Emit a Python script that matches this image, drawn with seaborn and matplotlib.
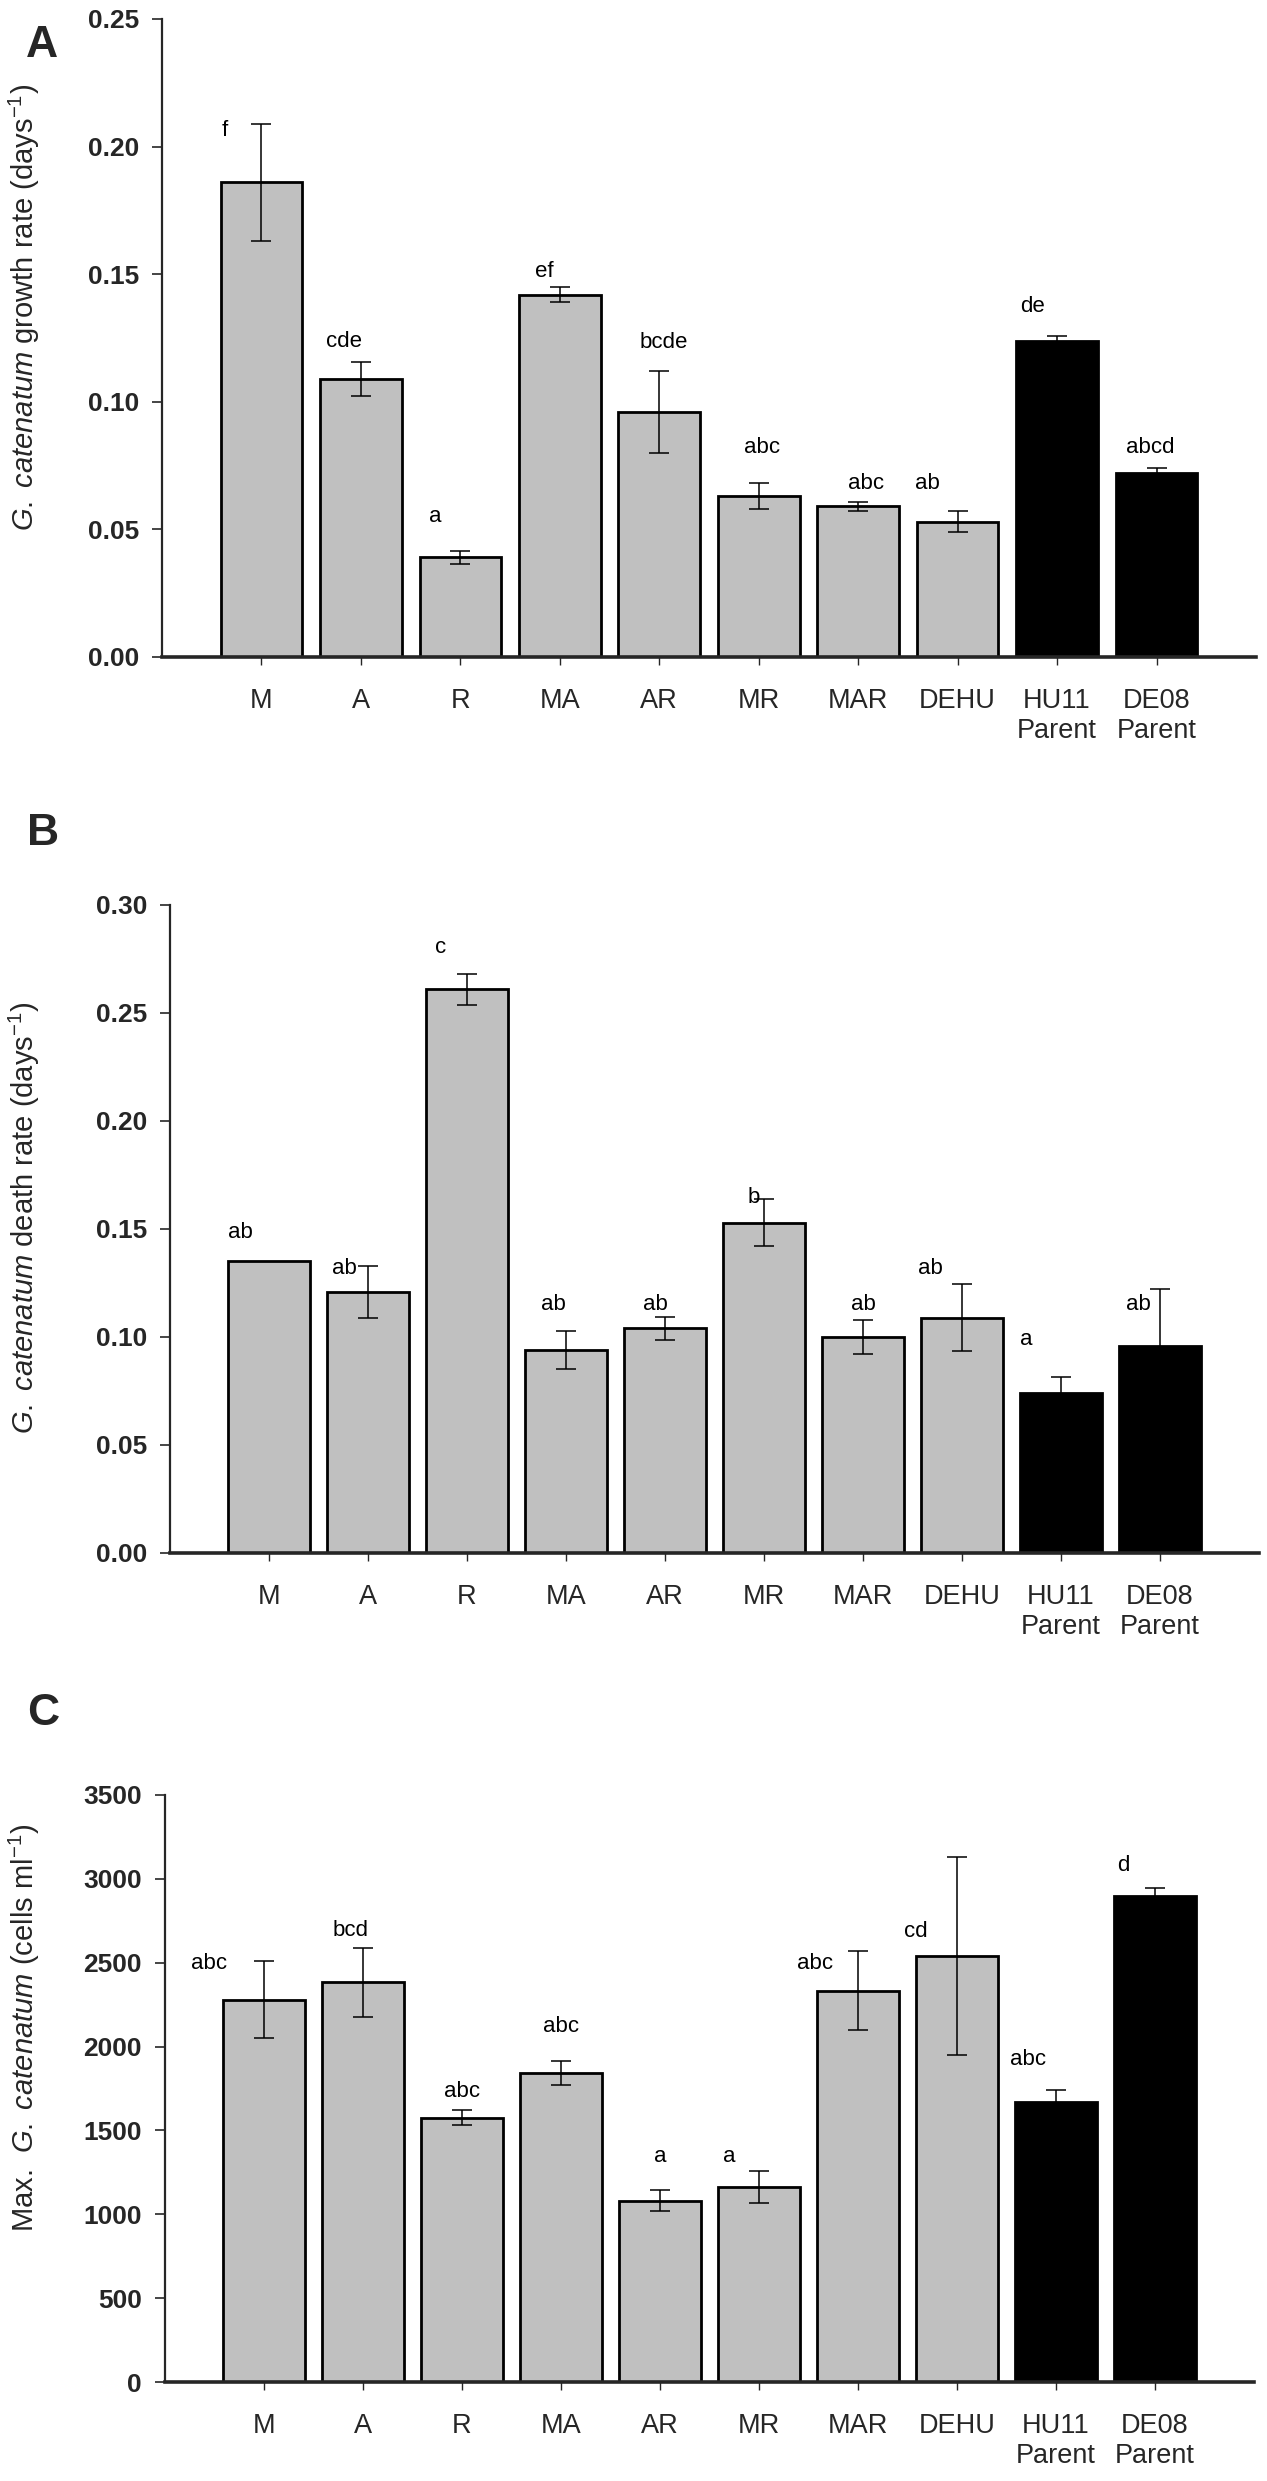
import numpy as np
import pandas as pd
import matplotlib
matplotlib.use("Agg")
import matplotlib.pyplot as plt
import seaborn as sns

# ---------------- data ----------------
categories = ["M", "A", "R", "MA", "AR", "MR", "MAR", "DEHU", "HU11\nParent", "DE08\nParent"]
groups = ["hybrid"] * 8 + ["parent"] * 2

growth_rate = [0.186, 0.109, 0.039, 0.142, 0.096, 0.063, 0.059, 0.053, 0.124, 0.072]
growth_err = [0.023, 0.0066, 0.0025, 0.003, 0.016, 0.005, 0.0018, 0.0041, 0.0016, 0.0019]
growth_letters = ["f", "cde", "a", "ef", "bcde", "abc", "abc", "ab", "de", "abcd"]

death_rate = [0.135, 0.121, 0.261, 0.094, 0.104, 0.153, 0.100, 0.109, 0.074, 0.096]
death_err = [0.0, 0.012, 0.0072, 0.009, 0.0053, 0.0107, 0.008, 0.0154, 0.0076, 0.026]
death_letters = ["ab", "ab", "c", "ab", "ab", "b", "ab", "ab", "a", "ab"]

max_cells = [2280, 2383, 1577, 1843, 1081, 1163, 2333, 2540, 1668, 2895]
max_cells_err = [228, 204, 45, 70, 62, 97, 235, 592, 76, 51]
max_cells_letters = ["abc", "bcd", "abc", "abc", "a", "a", "abc", "cd", "abc", "d"]

# letter placement (layout only)
growth_letter_y = [0.204, 0.1216, 0.053, 0.149, 0.121, 0.080, 0.066, 0.066, 0.1353, 0.080]
growth_letter_dx = [-0.37, -0.17, -0.25, -0.16, 0.05, 0.03, 0.08, -0.3, -0.25, -0.06]
death_letter_y = [0.1457, 0.129, 0.2776, 0.1125, 0.1125, 0.1622, 0.1125, 0.129, 0.0963, 0.1125]
death_letter_dx = [-0.29, -0.24, -0.27, -0.13, -0.1, -0.1, 0.0, -0.32, -0.35, -0.22]
cells_letter_y = [2460, 2658, 1700, 2088, 1314, 1314, 2460, 2656, 1893, 3048]
cells_letter_dx = [-0.55, -0.13, 0.0, 0.0, 0.0, -0.3, -0.43, -0.42, -0.28, -0.32]

# ---------------- style ----------------
sns.set_theme(style="ticks")
plt.rcParams["font.family"] = ["Liberation Sans", "DejaVu Sans"]
plt.rcParams["mathtext.fontset"] = "custom"
plt.rcParams["mathtext.rm"] = "Liberation Sans"
plt.rcParams["mathtext.it"] = "Liberation Sans:italic"
plt.rcParams["mathtext.bf"] = "Liberation Sans:bold"

W, H = 1267, 2481
fig = plt.figure(figsize=(W / 100, H / 100), dpi=100)

GRAY = "#c0c0c0"
palette = {"hybrid": GRAY, "parent": "#000000"}
bar_colors = [palette[g] for g in groups]


def px_axes(left, right, top, bottom):
    return fig.add_axes([left / W, 1 - bottom / H, (right - left) / W, (bottom - top) / H])


def draw_panel(ax, vals, errs, letters, ly, ldx, ylim, yticks, fmt):
    df = pd.DataFrame({"cat": categories, "val": vals})
    sns.barplot(data=df, x="cat", y="val", hue="cat", palette=bar_colors, legend=False,
                width=0.82, edgecolor="black", linewidth=2.0, errorbar=None, ax=ax,
                saturation=1)
    xs = np.arange(len(categories))
    errs = np.asarray(errs, dtype=float)
    m = errs > 0
    ax.errorbar(xs[m], np.asarray(vals)[m], yerr=errs[m], fmt="none", ecolor="black",
                elinewidth=1.1, capsize=7, capthick=1.1, zorder=5)
    for i, (t, y, dx) in enumerate(zip(letters, ly, ldx)):
        ax.text(i + dx, y, t, ha="center", va="baseline", fontsize=16, color="black")
    ax.set_xlim(-1.0, 10.0)
    ax.set_ylim(*ylim)
    ax.set_yticks(yticks)
    ax.set_yticklabels([fmt(v) for v in yticks], fontsize=19, fontweight="bold")
    ax.set_xticks(xs)
    ax.set_xticklabels(categories, fontsize=19.5, linespacing=1.2)
    ax.set_xlabel("")
    ax.set_ylabel("")
    sns.despine(ax=ax)
    ax.spines["left"].set_linewidth(1.6)
    ax.spines["bottom"].set_linewidth(2.6)
    ax.tick_params(axis="y", length=7.5, width=1.2, pad=9, direction="out")
    ax.tick_params(axis="x", length=6, width=1.0, pad=16, direction="out")
    ax.set_facecolor("white")


axA = px_axes(162, 1256, 19, 657)
draw_panel(axA, growth_rate, growth_err, growth_letters, growth_letter_y, growth_letter_dx,
           (0, 0.25), [0.0, 0.05, 0.10, 0.15, 0.20, 0.25], lambda v: f"{v:.2f}")

axB = px_axes(170, 1259, 905, 1553)
draw_panel(axB, death_rate, death_err, death_letters, death_letter_y, death_letter_dx,
           (0, 0.30), [0.0, 0.05, 0.10, 0.15, 0.20, 0.25, 0.30], lambda v: f"{v:.2f}")

axC = px_axes(165, 1254, 1795, 2382)
draw_panel(axC, max_cells, max_cells_err, max_cells_letters, cells_letter_y, cells_letter_dx,
           (0, 3500), list(range(0, 3501, 500)), lambda v: f"{int(v)}")

# y-axis labels
def ylab(x, y, s):
    fig.text(x / W, 1 - y / H, s, rotation=90, ha="center", va="center", fontsize=21)

ylab(24, 307, r"$\mathit{G.\ catenatum}$ growth rate (days$^{-1}$)")
ylab(24, 1218, r"$\mathit{G.\ catenatum}$ death rate (days$^{-1}$)")
ylab(24, 2028, r"Max.  $\mathit{G.\ catenatum}$ (cells ml$^{-1}$)")

# panel letters
for lab, x, yb in [("A", 26, 57), ("B", 27, 845), ("C", 27, 1725)]:
    fig.text(x / W, 1 - yb / H, lab, ha="left", va="baseline", fontsize=32, fontweight="bold")

fig.savefig("out.png", dpi=100, facecolor="white")
